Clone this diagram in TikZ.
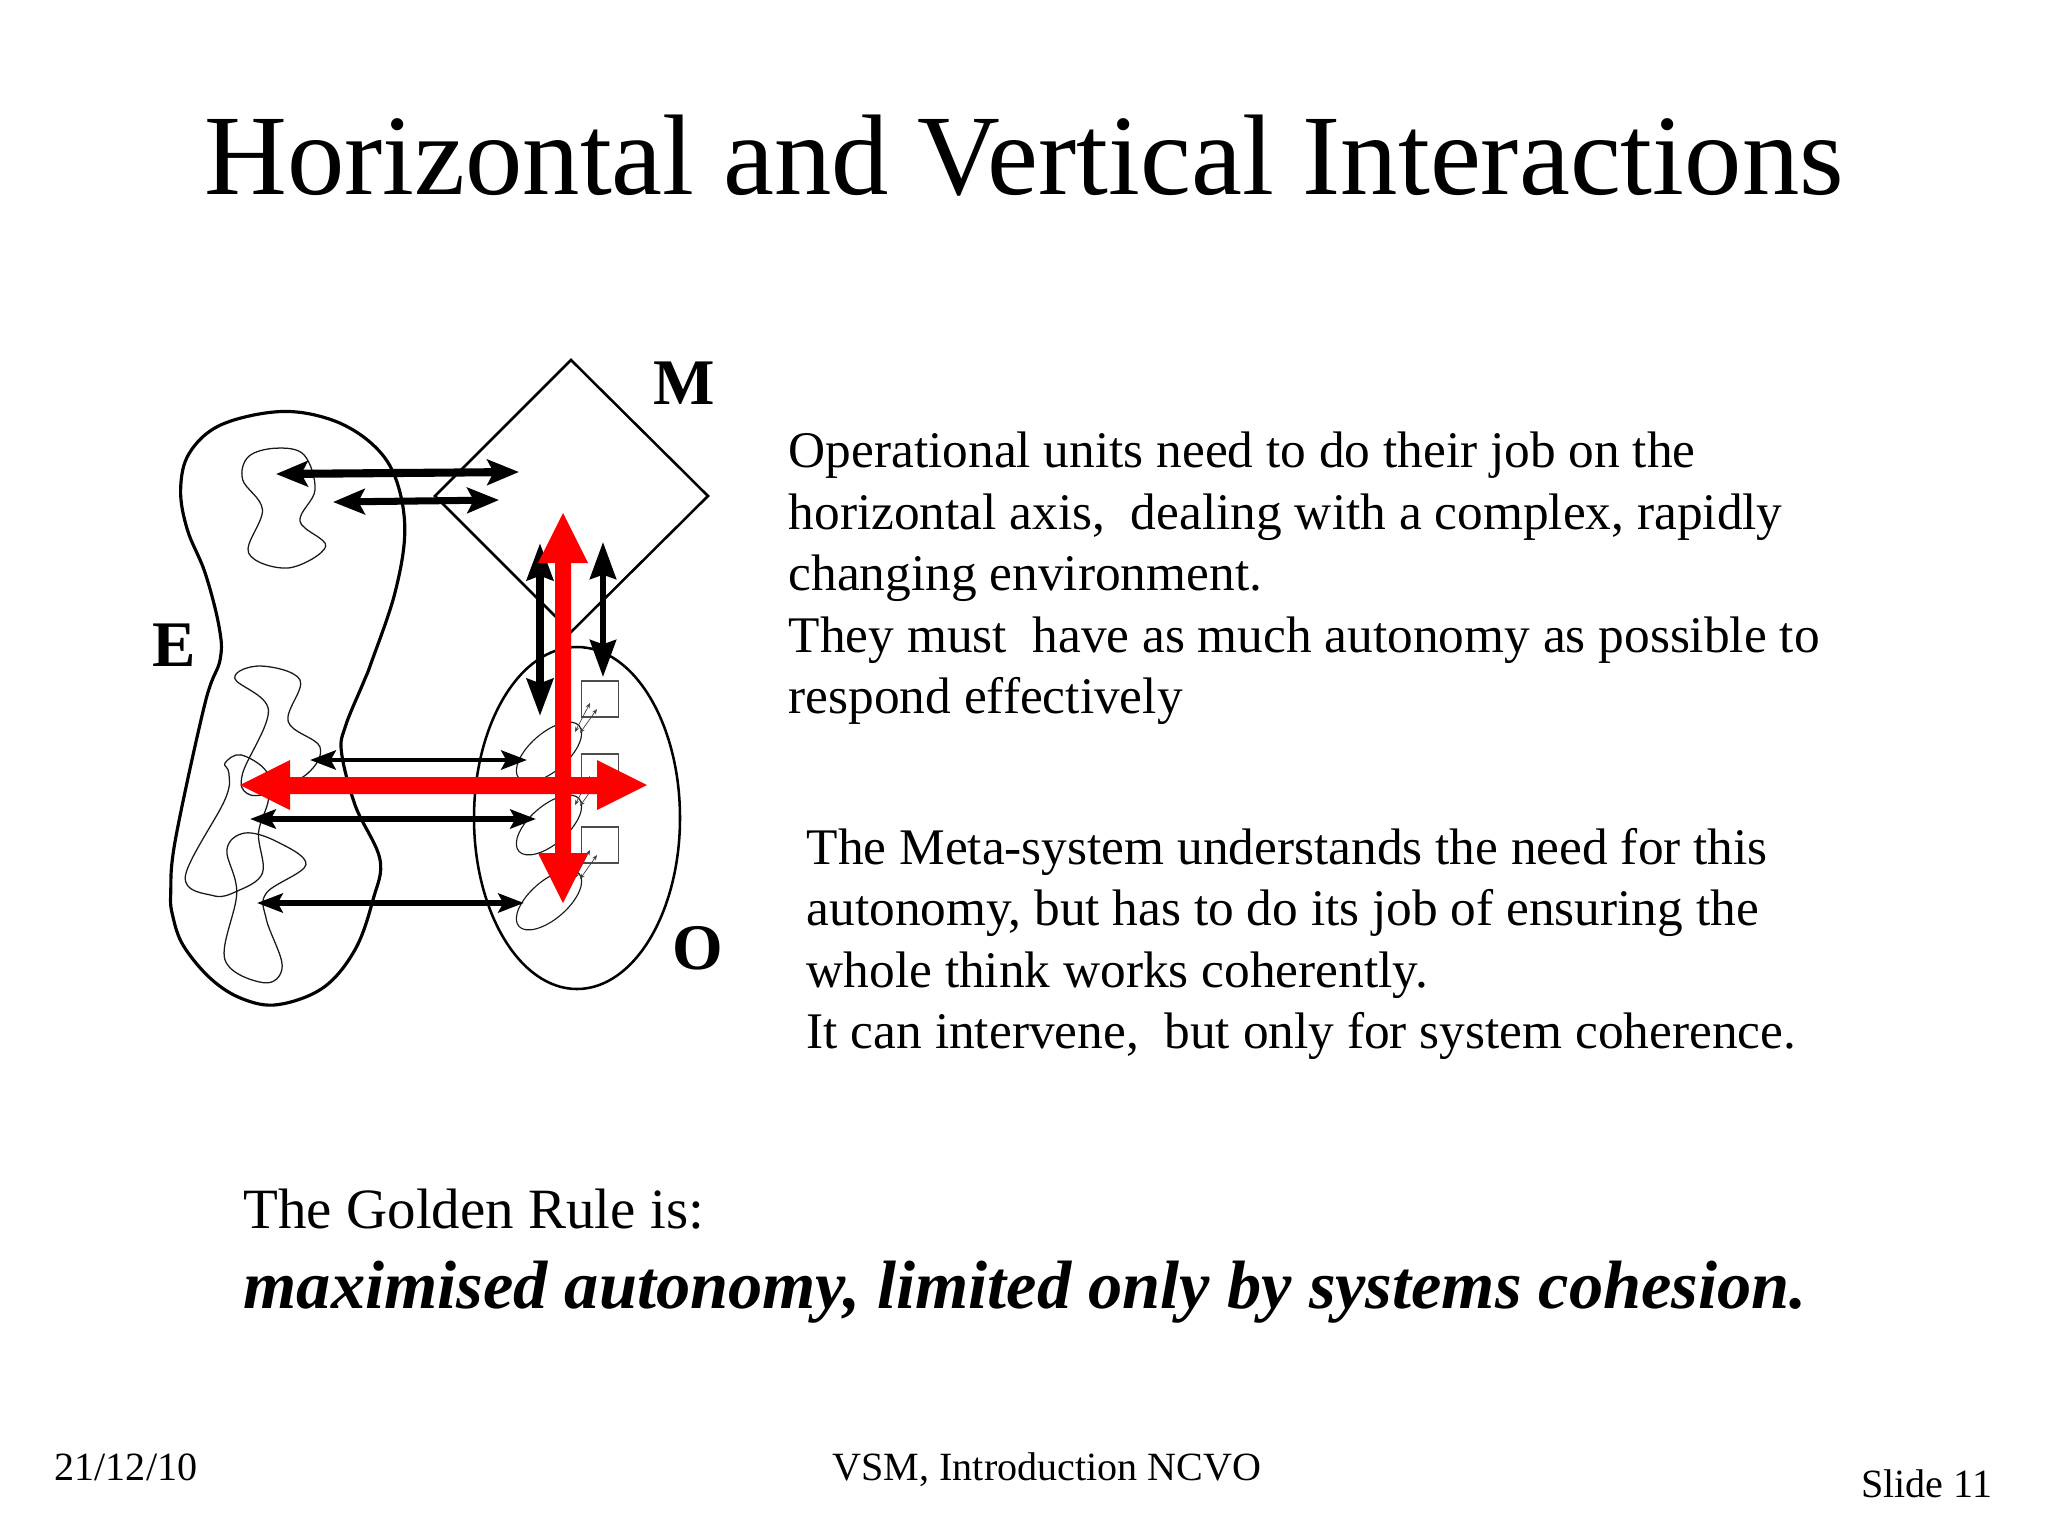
\documentclass[tikz,border=0pt]{standalone}
\usepackage{fontspec}
\setmainfont{Liberation Serif}
\usetikzlibrary{arrows.meta}
\newcommand{\ps}[2]{\fontsize{#1}{#2}\selectfont}
\tikzset{
  outer/.style={draw=black,line width=0.9pt},
  outerthin/.style={draw=black,line width=0.72pt},
  blob/.style={draw=black!90,line width=0.36pt},
  inner/.style={draw=black!90,line width=0.32pt},
  unit/.style={draw=black!70,line width=0.45pt,inner sep=0pt,minimum width=0.37cm,minimum height=0.36cm},
  blk/.style={draw=black,{Stealth[length=9pt,width=7.2pt,inset=1.8pt]}-{Stealth[length=9pt,width=7.2pt,inset=1.8pt]}},
  blks/.style={draw=black,{Stealth[length=7.3pt,width=5.4pt,inset=1.4pt]}-{Stealth[length=7.3pt,width=5.4pt,inset=1.4pt]}},
  vblk/.style={draw=black,{Stealth[length=10.5pt,width=7.4pt,inset=1.2pt]}-{Stealth[length=10.5pt,width=7.4pt,inset=1.2pt]}},
  tiny/.style={draw=black!75,line width=0.2pt,{Stealth[length=1.5pt,width=1.2pt]}-{Stealth[length=1.5pt,width=1.2pt]}},
  redhead/.style={fill=red,draw=none},
  txt/.style={inner sep=0pt,anchor=north west,align=left,text=black,font=\ps{14.6}{17.47}},
  letter/.style={inner sep=0pt,font=\bfseries\ps{18.5}{20}},
}
\begin{document}
\begin{tikzpicture}[x=0.01cm,y=-0.01cm]
\useasboundingbox (0,0) rectangle (2048,1536);
\fill[white] (0,0) rectangle (2048,1536);

% Title
\node[inner sep=0pt,anchor=base] (title) at (1024,194) {\ps{32.6}{36}Horizontal and Vertical Interactions};

% Environment outline and blobs, in crop coordinates
\begin{scope}[shift={(130,340)},x=0.00395cm,y=-0.00333cm]
  \draw[outer] plot[smooth cycle,tension=0.6] coordinates {
    (380,215) (510,240) (610,310) (670,410) (695,570) (670,760) (610,970)
    (590,1030) (545,1160) (535,1240) (570,1400) (632,1560) (615,1680) (570,1830)
    (490,1945) (375,1997) (285,1980) (205,1920) (135,1820) (108,1730) (103,1660)
    (115,1500) (190,1090)
    (228,960) (225,860) (190,700) (145,570) (128,450) (150,340) (230,255)};
  \draw[blob] plot[smooth cycle,tension=0.6] coordinates {
    (370,325) (440,345) (468,450) (430,545) (495,620) (400,685) (300,640)
    (335,510) (285,420) (300,350)};
\end{scope}
\begin{scope}[shift={(130,660)},x=0.00395cm,y=-0.00333cm]
  \draw[blob] plot[smooth cycle,tension=0.6] coordinates {
    (330,18) (430,60) (400,185) (480,260) (450,340) (350,400) (295,400)
    (285,340) (350,150) (265,55)};
  \draw[blob] plot[smooth cycle,tension=0.6] coordinates {
    (280,285) (345,335) (350,420) (325,520) (335,640) (270,695) (210,708)
    (140,650) (240,420) (250,340) (240,310)};
  \draw[blob] plot[smooth cycle,tension=0.6] coordinates {
    (245,570) (290,520) (370,545) (445,615) (345,700) (345,780) (385,920)
    (340,970) (240,900) (270,700)};
\end{scope}

% Metasystem diamond
\coordinate (mt) at (571,360);
\coordinate (mr) at (708,496);
\coordinate (mb) at (571,632);
\coordinate (ml) at (435,496);
\draw[outerthin] (mt) -- (mr) -- (mb) -- (ml) -- cycle;

% Operation ellipse
\draw[outerthin] (577,818) ellipse [x radius=103,y radius=171];

% Inner tilted ellipses
\draw[inner,rotate around={41:(549,752)}] (549,752) ellipse [x radius=40,y radius=19];
\draw[inner,rotate around={41:(549,825)}] (549,825) ellipse [x radius=40,y radius=19];
\draw[inner,rotate around={41:(549,900)}] (549,900) ellipse [x radius=40,y radius=19];

% Management units
\node[unit] (sqa) at (600,699) {};
\node[unit] (sqb) at (600,772) {};
\node[unit] (sqc) at (600,845) {};

% tiny links
\coordinate (a1) at (575,732); \coordinate (a2) at (590,703);
\coordinate (a3) at (580,733); \coordinate (a4) at (597,709);
\coordinate (b1) at (575,805); \coordinate (b2) at (590,776);
\coordinate (b3) at (580,806); \coordinate (b4) at (597,782);
\coordinate (c1) at (575,878); \coordinate (c2) at (590,850);
\coordinate (c3) at (580,879); \coordinate (c4) at (597,855);
\foreach \p/\q in {a1/a2,a3/a4,b1/b2,b3/b4,c1/c2,c3/c4}{\draw[tiny] (\p) -- (\q);}

% Black double arrows
\coordinate (h1l) at (276,474); \coordinate (h1r) at (519,472);
\coordinate (h2l) at (333,502); \coordinate (h2r) at (499,500);
\coordinate (h3l) at (310,760); \coordinate (h3r) at (527,760);
\coordinate (h4l) at (250,819); \coordinate (h4r) at (536,819);
\coordinate (h5l) at (257,903); \coordinate (h5r) at (524,903);
\coordinate (v1t) at (540,543); \coordinate (v1b) at (540,716);
\coordinate (v2t) at (603,542); \coordinate (v2b) at (603,677);
\draw[blk,line width=2.3pt] (h1l) -- (h1r);
\draw[blk,line width=2pt] (h2l) -- (h2r);
\draw[blks,line width=1.4pt] (h3l) -- (h3r);
\draw[blks,line width=1.7pt] (h4l) -- (h4r);
\draw[blks,line width=1.7pt] (h5l) -- (h5r);
\draw[vblk,line width=2.2pt] (v1t) -- (v1b);
\draw[vblk,line width=1.7pt] (v2t) -- (v2b);

% Red cross arrows
\fill[redhead] (563,513) -- (588,563) -- (571,563) -- (571,853) -- (588,853) -- (563,903)
  -- (538,853) -- (555,853) -- (555,563) -- (538,563) -- cycle;
\fill[redhead] (240,785) -- (290,760) -- (290,777) -- (597,777) -- (597,760) -- (647,785)
  -- (597,810) -- (597,794) -- (290,794) -- (290,810) -- cycle;

% Letters
\node[letter] (lm) at (684,383) {M};
\node[letter] (le) at (174,645) {E};
\node[letter] (lo) at (698,948) {O};

% Body text
\node[txt] (p1) at (788,431.5) {Operational units need to do their job on the\\
horizontal axis,\ \ dealing with a complex, rapidly\\
changing environment.\\
They must\ \ have as much autonomy as possible to\\
respond effectively};
\node[txt] (p2) at (806,827.5) {The Meta-system understands the need for this\\
autonomy, but has to do its job of ensuring the\\
whole think works coherently.\\
It can intervene,\ \ but only for system coherence.};
\node[inner sep=0pt,anchor=base west] (g1) at (243,1228) {\ps{16.2}{18}The Golden Rule is:};
\node[inner sep=0pt,anchor=base west] (g2) at (243,1308) {\ps{19.45}{22}\bfseries\itshape maximised autonomy, limited only by systems cohesion.};

% Footer
\node[inner sep=0pt,anchor=base west] (f1) at (54,1480) {\ps{11.4}{14}21/12/10};
\node[inner sep=0pt,anchor=base] (f2) at (1047,1480) {\ps{11.4}{14}VSM, Introduction NCVO};
\node[inner sep=0pt,anchor=base east] (f3) at (1993,1497) {\ps{11.4}{14}Slide 11};
\end{tikzpicture}
\end{document}
